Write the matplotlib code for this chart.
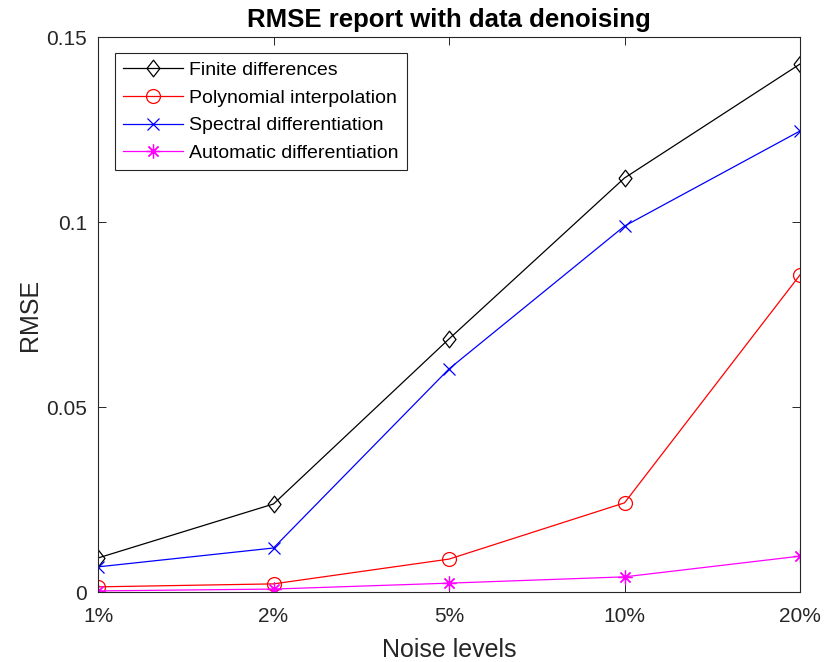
import matplotlib
matplotlib.use("Agg")
import matplotlib.pyplot as plt

plt.rcParams['font.family'] = ['Liberation Sans', 'DejaVu Sans']

noise_levels = ['1%', '2%', '5%', '10%', '20%']
finite_diff = [0.0092, 0.0238, 0.0684, 0.1119, 0.1427]
poly_interp = [0.0014, 0.0022, 0.0089, 0.0241, 0.0857]
spectral_diff = [0.0068, 0.0119, 0.0603, 0.0989, 0.1246]
auto_diff = [0.0003, 0.0008, 0.0024, 0.0041, 0.0097]
y_ticks = [0, 0.05, 0.1, 0.15]
y_tick_labels = ['0', '0.05', '0.1', '0.15']

x = list(range(1, len(noise_levels) + 1))

# tall diamond marker, as drawn by MATLAB's 'd'
diamond = [(-0.78, 0), (0, 1), (0.78, 0), (0, -1), (-0.78, 0)]

fig = plt.figure(figsize=(8.25, 6.62), dpi=100)
ax = fig.add_axes([0.1188, 0.1057, 0.8509, 0.8384])

lw = 0.9
ax.plot(x, finite_diff, color='black', marker=diamond, markersize=12, markerfacecolor='none',
        markeredgewidth=lw, linewidth=lw, label='Finite differences')
ax.plot(x, poly_interp, color='red', marker='o', markersize=10, markerfacecolor='none',
        markeredgewidth=lw, linewidth=lw, label='Polynomial interpolation')
ax.plot(x, spectral_diff, color='blue', marker='x', markersize=8,
        markeredgewidth=lw, linewidth=lw, label='Spectral differentiation')
ax.plot(x, auto_diff, color='magenta', marker=(8, 2, 0), markersize=10,
        markeredgewidth=lw, linewidth=lw, label='Automatic differentiation')

ax.set_xlim(1, 5)
ax.set_ylim(0, 0.15)
ax.set_xticks(x)
ax.set_xticklabels(noise_levels)
ax.set_yticks(y_ticks)
ax.set_yticklabels(y_tick_labels)
ax.tick_params(direction='in', top=True, right=True, length=6, width=0.7,
               labelsize=15, colors='#262626')
ax.tick_params(axis='x', pad=11)
ax.tick_params(axis='y', pad=8)
for s in ax.spines.values():
    s.set_linewidth(0.8)
    s.set_color('#262626')

ax.set_xlabel('Noise levels', fontsize=18, color='#262626', labelpad=8.5)
ax.set_ylabel('RMSE', fontsize=18, color='#262626', labelpad=3)
ax.set_title('RMSE report with data denoising', fontsize=18.5, fontweight='bold', pad=7)

leg = ax.legend(loc='upper left', bbox_to_anchor=(0.024, 0.971), fontsize=14,
                fancybox=False, framealpha=1, edgecolor='#262626', borderpad=0.42,
                handlelength=3.1, handletextpad=0.3, labelspacing=0.52, borderaxespad=0)
leg.get_frame().set_linewidth(0.8)

fig.savefig('out.png', dpi=100)
